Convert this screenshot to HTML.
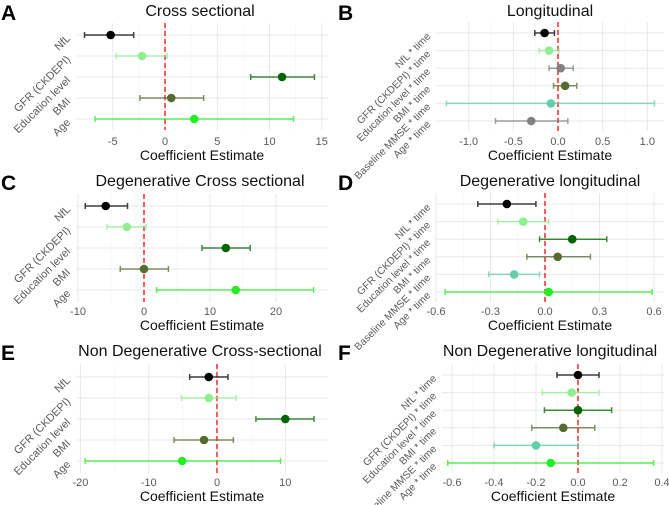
<!DOCTYPE html>
<html><head><meta charset="utf-8"><style>
body{margin:0;background:#fff;}
svg{display:block;font-family:"Liberation Sans",sans-serif;}
</style></head><body>
<svg id="fig" width="669" height="505"></svg>
<script>
const labelsCS = ["NfL","GFR (CKDEPI)","Education level","BMI","Age"];
const labelsL = ["NfL * time","GFR (CKDEPI) * time","Education level * time","BMI * time","Baseline MMSE * time","Age * time"];
const colorsCS = ["#000000","#90EE90","#006400","#556B2F","#22ee22"];
const colorsB = ["#000000","#90EE90","#808080","#556B2F","#66CDAA","#808080"];
const colorsL = ["#000000","#90EE90","#006400","#556B2F","#66CDAA","#22ee22"];

const estA=[-5.2,-2.2,11.2,0.6,2.8], loA=[-7.7,-4.7,8.2,-2.4,-6.7], hiA=[-3.0,0.2,14.3,3.7,12.3];
const ticksA=[-5,0,5,10,15];
const estB=[-0.15,-0.1,0.03,0.08,-0.08,-0.3], loB=[-0.26,-0.21,-0.1,-0.05,-1.25,-0.7], hiB=[-0.04,0.01,0.17,0.21,1.08,0.11];
const ticksB=[-1.0,-0.5,0.0,0.5,1.0];
const estC=[-5.8,-2.6,12.4,0,13.9], loC=[-8.9,-5.6,8.8,-3.6,1.9], hiC=[-2.5,0.3,16.1,3.7,25.7];
const ticksC=[-10,0,10,20];
const estD=[-0.21,-0.12,0.15,0.07,-0.17,0.02], loD=[-0.37,-0.26,-0.03,-0.1,-0.31,-0.55], hiD=[-0.05,0.02,0.34,0.25,-0.03,0.59];
const ticksD=[-0.6,-0.3,0.0,0.3,0.6];
const estE=[-1.2,-1.2,10,-1.9,-5.1], loE=[-4,-5.2,5.7,-6.3,-19.3], hiE=[1.6,2.8,14.2,2.4,9.3];
const ticksE=[-20,-10,0,10];
const estF=[0,-0.03,0,-0.07,-0.2,-0.13], loF=[-0.1,-0.17,-0.16,-0.22,-0.4,-0.62], hiF=[0.1,0.1,0.16,0.08,0,0.36];
const ticksF=[-0.6,-0.4,-0.2,0.0,0.2,0.4];

const NS="http://www.w3.org/2000/svg";
const svg=document.getElementById('fig');
function mk(tag,attrs,parent){const e=document.createElementNS(NS,tag);for(const k in attrs)e.setAttribute(k,attrs[k]);(parent||svg).appendChild(e);return e;}

function panel(cfg){
  const g=mk('g',{});
  
  
  const x=v=>cfg.zero+v*cfg.scale;
  const n=cfg.labels.length;
  const y=i=>cfg.rowTop+i*(cfg.rowBot-cfg.rowTop)/(n-1);
  const lfs=n>5?10.3:11;
  for(let i=0;i<cfg.ticks.length-1;i++){
    const m=(cfg.ticks[i]+cfg.ticks[i+1])/2;
    const l=mk('line',{x1:x(m),x2:x(m),y1:cfg.top,y2:cfg.bot,stroke:'#f3f3f3','stroke-width':0.6},g);
    
    
  }
  cfg.ticks.forEach(t=>{
    const l=mk('line',{x1:x(t),x2:x(t),y1:cfg.top,y2:cfg.bot,stroke:'#e8e8e8','stroke-width':1},g);
    
    
    const tx=mk('text',{x:x(t),y:cfg.tickY,'text-anchor':'middle','font-size':11,fill:'#5a5a5a'},g);
    tx.textContent=(cfg.dec?t.toFixed(cfg.dec):String(t));
    
    
  });
  for(let i=0;i<n;i++){
    const l=mk('line',{x1:cfg.left,x2:cfg.right,y1:y(i),y2:y(i),stroke:'#e8e8e8','stroke-width':1},g);
    
    
    const t=mk('text',{x:cfg.left-5,y:y(i)+4,'text-anchor':'end','font-size':lfs,fill:'#5a5a5a',transform:`rotate(-45 ${cfg.left-5} ${y(i)+4})`},g);
    t.textContent=cfg.labels[i];
    
    
  }
  const ref=mk('line',{x1:x(0),x2:x(0),y1:cfg.top,y2:cfg.bot,stroke:'#ff3333','stroke-width':1.6,'stroke-dasharray':'5,3'},g);
  
  
  for(let i=0;i<n;i++){
    const c=cfg.colors[i], yy=y(i);
    const eg=mk('g',{opacity:0.75},g);
    
    
    mk('line',{x1:x(cfg.lo[i]),x2:x(cfg.hi[i]),y1:yy,y2:yy,stroke:c,'stroke-width':1.5},eg);
    mk('line',{x1:x(cfg.lo[i]),x2:x(cfg.lo[i]),y1:yy-3,y2:yy+3,stroke:c,'stroke-width':1.5},eg);
    mk('line',{x1:x(cfg.hi[i]),x2:x(cfg.hi[i]),y1:yy-3,y2:yy+3,stroke:c,'stroke-width':1.5},eg);
    const p=mk('circle',{cx:x(cfg.est[i]),cy:yy,r:4.3,fill:c},g);
    
    
  }
  const ti=mk('text',{x:cfg.titleX,y:cfg.titleY,'text-anchor':'middle','font-size':16,fill:'#111'},g);
  ti.textContent=cfg.title;
  
  
  const at=mk('text',{x:(cfg.left+cfg.right)/2,y:cfg.tickY+15,'text-anchor':'middle','font-size':14,fill:'#111'},g);
  at.textContent='Coefficient Estimate';
  
  
  const lt=mk('text',{x:cfg.ox+1,y:cfg.titleY+4,'font-size':21,'font-weight':'bold',fill:'#000'},g);
  lt.textContent=cfg.letter;
  
  
}

panel({letter:'A',title:'Cross sectional',ox:0,labels:labelsCS,colors:colorsCS,est:estA,lo:loA,hi:hiA,ticks:ticksA,
  zero:165,scale:10.45,left:76,right:328,top:23,bot:130,rowTop:35,rowBot:119,tickY:145,titleX:200,titleY:16});
panel({letter:'B',title:'Longitudinal',ox:337,labels:labelsL,colors:colorsB,est:estB,lo:loB,hi:hiB,ticks:ticksB,dec:1,
  zero:558,scale:89.3,left:436,right:664,top:22,bot:131,rowTop:33,rowBot:121,tickY:145,titleX:550,titleY:16});
panel({letter:'C',title:'Degenerative Cross sectional',ox:0,labels:labelsCS,colors:colorsCS,est:estC,lo:loC,hi:hiC,ticks:ticksC,
  zero:144,scale:6.6,left:76,right:328,top:194,bot:302,rowTop:206,rowBot:290,tickY:315,titleX:200,titleY:186});
panel({letter:'D',title:'Degenerative longitudinal',ox:337,labels:labelsL,colors:colorsL,est:estD,lo:loD,hi:hiD,ticks:ticksD,dec:1,
  zero:545,scale:181.7,left:436,right:664,top:193,bot:302,rowTop:204,rowBot:292,tickY:315,titleX:550,titleY:186});
panel({letter:'E',title:'Non Degenerative Cross-sectional',ox:0,labels:labelsCS,colors:colorsCS,est:estE,lo:loE,hi:hiE,ticks:ticksE,
  zero:217,scale:6.83,left:76,right:328,top:364,bot:473,rowTop:377,rowBot:461,tickY:486,titleX:200,titleY:356});
panel({letter:'F',title:'Non Degenerative longitudinal',ox:337,labels:labelsL,colors:colorsL,est:estF,lo:loF,hi:hiF,ticks:ticksF,dec:1,
  zero:578,scale:210,left:442,right:664,top:364,bot:473,rowTop:375,rowBot:463,tickY:486,titleX:550,titleY:356});
</script>
</body></html>
